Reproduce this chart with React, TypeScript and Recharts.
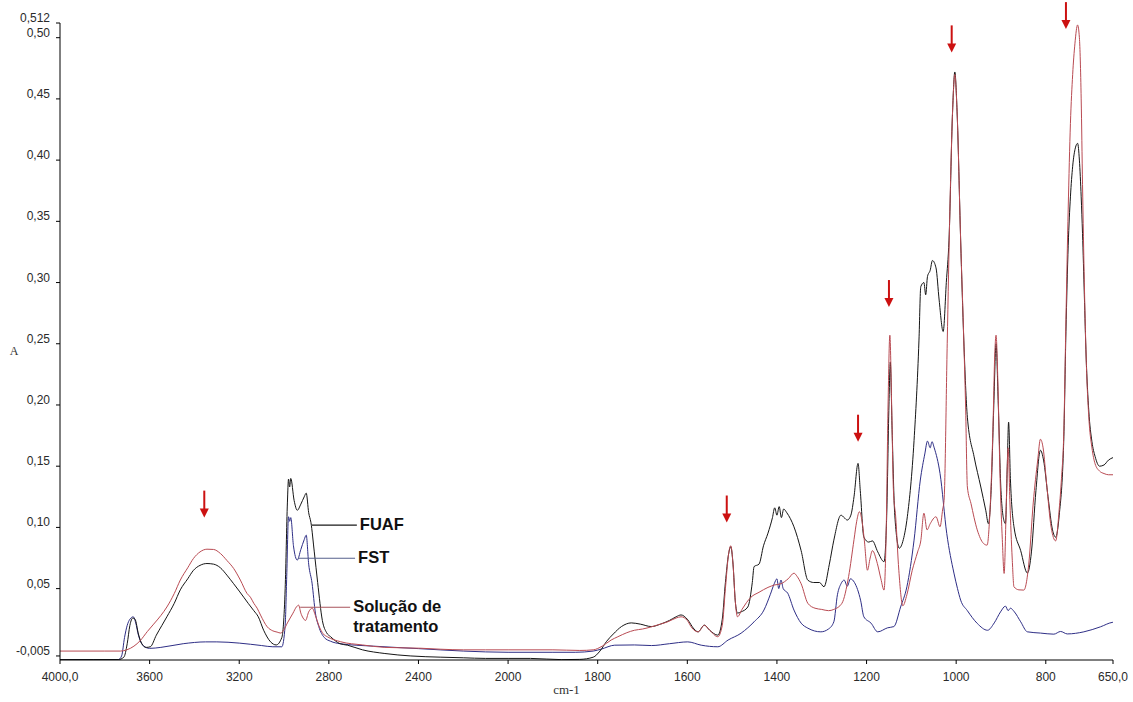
import React from 'react';
import { LineChart, Line, XAxis, YAxis, ReferenceDot, ReferenceLine } from 'recharts';

type Pt = [number, number];

// FTIR spectra: [wavenumber (cm-1), absorbance]
const FUAF: Pt[] = [
  [4000, -0.008], [3850, -0.008], [3740, -0.008], [3715, -0.006], [3700, 0.005], [3688, 0.02],
  [3675, 0.026], [3665, 0.025], [3650, 0.013], [3635, 0.005], [3615, 0.002], [3597, 0.0025],
  [3570, 0.012], [3545, 0.02], [3523, 0.027], [3490, 0.038], [3463, 0.049], [3430, 0.058],
  [3404, 0.065], [3375, 0.069], [3344, 0.0705], [3315, 0.07], [3284, 0.067], [3255, 0.061],
  [3225, 0.054], [3200, 0.048], [3180, 0.043], [3160, 0.038], [3135, 0.032], [3115, 0.027],
  [3091, 0.016], [3060, 0.0065], [3035, 0.004], [3010, 0.01], [2995, 0.05], [2985, 0.12],
  [2980, 0.1395], [2975, 0.133], [2970, 0.14], [2955, 0.122], [2941, 0.114], [2925, 0.119],
  [2910, 0.125], [2901, 0.128], [2890, 0.112], [2880, 0.104], [2865, 0.08], [2850, 0.055],
  [2829, 0.024], [2810, 0.014], [2792, 0.0107], [2750, 0.005], [2717, 0.0038], [2650, 0.0],
  [2550, -0.003], [2434, -0.005], [2300, -0.006], [2200, -0.0065], [2100, -0.007], [2000, -0.007],
  [1950, -0.007], [1880, -0.008], [1840, -0.0078], [1810, -0.006], [1795, -0.001], [1780, 0.007],
  [1765, 0.013], [1747, 0.019], [1725, 0.022], [1705, 0.021], [1680, 0.019], [1660, 0.021],
  [1640, 0.024], [1625, 0.027], [1614, 0.0285], [1600, 0.025], [1585, 0.017], [1576, 0.0147],
  [1562, 0.0202], [1550, 0.016], [1532, 0.012], [1522, 0.025], [1515, 0.055], [1508, 0.078],
  [1503, 0.0842], [1498, 0.07], [1493, 0.04], [1488, 0.03], [1480, 0.031], [1465, 0.035],
  [1455, 0.055], [1451, 0.068], [1440, 0.07], [1430, 0.085], [1420, 0.0953], [1410, 0.108],
  [1405, 0.116], [1400, 0.11], [1395, 0.117], [1390, 0.108], [1385, 0.115], [1378, 0.112],
  [1362, 0.1005], [1346, 0.081], [1331, 0.0569], [1318, 0.055], [1305, 0.055], [1295, 0.0515],
  [1283, 0.07], [1273, 0.0896], [1257, 0.11], [1250, 0.108], [1243, 0.106], [1235, 0.11],
  [1228, 0.125], [1219, 0.1523], [1214, 0.13], [1206, 0.092], [1195, 0.088], [1187, 0.089],
  [1175, 0.08], [1161, 0.072], [1155, 0.11], [1150, 0.2], [1147, 0.235], [1143, 0.18],
  [1137, 0.11], [1127, 0.083], [1118, 0.09], [1109, 0.1087], [1094, 0.171], [1083, 0.253],
  [1079, 0.2966], [1072, 0.3], [1068, 0.29], [1064, 0.305], [1058, 0.31], [1053, 0.318],
  [1045, 0.312], [1038, 0.2857], [1029, 0.26], [1022, 0.3], [1016, 0.3347], [1008, 0.44],
  [1003, 0.472], [998, 0.44], [990, 0.3347], [983, 0.253], [975, 0.19], [960, 0.1577],
  [945, 0.133], [934, 0.114], [928, 0.103], [922, 0.13], [916, 0.2], [911, 0.25], [906, 0.2],
  [900, 0.13], [893, 0.105], [890, 0.103], [886, 0.15], [883, 0.186], [879, 0.14], [871, 0.1005],
  [856, 0.081], [841, 0.0627], [832, 0.08], [822, 0.13], [812, 0.163], [805, 0.155], [795, 0.125],
  [785, 0.098], [778, 0.092], [770, 0.11], [760, 0.17], [755, 0.26], [750, 0.33], [745, 0.37],
  [740, 0.395], [734, 0.41], [729, 0.4137], [725, 0.4], [721, 0.37], [718, 0.34], [714, 0.29],
  [710, 0.24], [704, 0.195], [697, 0.17], [690, 0.158], [680, 0.15], [670, 0.151], [660, 0.155],
  [650, 0.157],
];

const FST: Pt[] = [
  [4000, -0.008], [3740, -0.008], [3725, -0.005], [3712, 0.01], [3700, 0.02], [3688, 0.025],
  [3673, 0.027], [3662, 0.022], [3650, 0.012], [3635, 0.005], [3615, 0.0018], [3600, 0.0012],
  [3550, 0.002], [3450, 0.005], [3350, 0.0065], [3300, 0.0065], [3200, 0.0055], [3100, 0.0035],
  [3050, 0.0025], [3010, 0.0025], [2995, 0.02], [2988, 0.06], [2980, 0.1087], [2975, 0.105],
  [2970, 0.108], [2958, 0.085], [2941, 0.0733], [2925, 0.082], [2910, 0.09], [2901, 0.0937],
  [2890, 0.07], [2875, 0.0545], [2860, 0.03], [2845, 0.019], [2820, 0.01], [2792, 0.007],
  [2750, 0.005], [2600, 0.003], [2400, 0.001], [2200, -0.001], [2000, -0.002], [1900, -0.002],
  [1850, -0.002], [1810, -0.001], [1792, 0.0006], [1762, 0.0038], [1718, 0.004], [1680, 0.0035],
  [1640, 0.005], [1599, 0.0065], [1569, 0.0038], [1532, 0.0025], [1509, 0.008], [1480, 0.0136],
  [1465, 0.018], [1451, 0.0229], [1429, 0.0325], [1415, 0.045], [1406, 0.054], [1400, 0.058],
  [1396, 0.05], [1391, 0.057], [1386, 0.05], [1376, 0.0463], [1362, 0.0325], [1346, 0.0218],
  [1331, 0.0177], [1302, 0.0147], [1285, 0.017], [1273, 0.0229], [1265, 0.045], [1257, 0.054],
  [1250, 0.057], [1243, 0.052], [1236, 0.058], [1227, 0.055], [1213, 0.04], [1206, 0.027],
  [1190, 0.0218], [1175, 0.0147], [1153, 0.018], [1139, 0.019], [1124, 0.035], [1110, 0.0515],
  [1094, 0.0896], [1080, 0.1387], [1070, 0.16], [1064, 0.1705], [1058, 0.165], [1054, 0.17],
  [1049, 0.165], [1036, 0.144], [1021, 0.095], [1005, 0.0627], [997, 0.05], [990, 0.0406],
  [975, 0.032], [953, 0.0216], [930, 0.016], [915, 0.022], [901, 0.031], [890, 0.0357],
  [884, 0.032], [879, 0.034], [870, 0.031], [856, 0.0229], [841, 0.0147], [812, 0.0137],
  [782, 0.0128], [767, 0.015], [752, 0.013], [715, 0.0147], [678, 0.0188], [652, 0.0224],
  [650, 0.0225],
];

const SOLUCAO: Pt[] = [
  [4000, -0.001], [3800, -0.001], [3730, -0.001], [3702, 0.0], [3670, 0.003], [3642, 0.0075],
  [3610, 0.015], [3582, 0.021], [3550, 0.028], [3523, 0.035], [3490, 0.046], [3463, 0.057],
  [3430, 0.067], [3404, 0.0747], [3375, 0.08], [3344, 0.0822], [3315, 0.082], [3284, 0.0787],
  [3255, 0.073], [3225, 0.0665], [3195, 0.057], [3165, 0.046], [3150, 0.043], [3135, 0.038],
  [3120, 0.034], [3105, 0.0284], [3075, 0.0188], [3050, 0.0155], [3031, 0.0145], [3015, 0.0137],
  [3002, 0.016], [2985, 0.022], [2960, 0.03], [2945, 0.035], [2935, 0.0365], [2925, 0.03],
  [2915, 0.026], [2904, 0.024], [2890, 0.031], [2874, 0.034], [2860, 0.028], [2845, 0.02],
  [2825, 0.013], [2807, 0.0107], [2747, 0.0066], [2650, 0.004], [2550, 0.002], [2389, 0.0013],
  [2300, 0.0005], [2200, 0.0], [2100, 0.0], [2000, 0.0], [1900, 0.0], [1840, -0.0005],
  [1810, 0.0], [1790, 0.003], [1770, 0.008], [1755, 0.0107], [1735, 0.014], [1718, 0.016],
  [1700, 0.017], [1680, 0.0188], [1660, 0.021], [1643, 0.023], [1625, 0.026], [1614, 0.027],
  [1600, 0.024], [1590, 0.018], [1576, 0.0147], [1562, 0.02], [1550, 0.016], [1532, 0.0107],
  [1522, 0.02], [1515, 0.05], [1508, 0.078], [1503, 0.085], [1498, 0.07], [1493, 0.04],
  [1488, 0.027], [1478, 0.033], [1458, 0.043], [1440, 0.047], [1420, 0.051], [1405, 0.053],
  [1391, 0.054], [1375, 0.058], [1362, 0.0626], [1355, 0.06], [1346, 0.054], [1331, 0.038],
  [1315, 0.034], [1300, 0.033], [1285, 0.032], [1273, 0.033], [1255, 0.038], [1240, 0.06],
  [1228, 0.09], [1222, 0.105], [1216, 0.1128], [1210, 0.105], [1205, 0.0896], [1198, 0.065],
  [1192, 0.075], [1187, 0.081], [1176, 0.0706], [1168, 0.058], [1161, 0.0488], [1156, 0.1],
  [1152, 0.2], [1148, 0.257], [1144, 0.2], [1140, 0.13], [1135, 0.1087], [1128, 0.065],
  [1119, 0.036], [1110, 0.045], [1098, 0.065], [1086, 0.08], [1079, 0.089], [1072, 0.1116],
  [1065, 0.098], [1058, 0.103], [1045, 0.1087], [1036, 0.1005], [1030, 0.115], [1027, 0.122],
  [1020, 0.25], [1014, 0.36], [1008, 0.44], [1003, 0.47], [998, 0.44], [990, 0.3347],
  [983, 0.253], [979, 0.2], [975, 0.133], [967, 0.1196], [953, 0.098], [939, 0.0869],
  [931, 0.0855], [925, 0.11], [918, 0.18], [914, 0.24], [911, 0.257], [907, 0.22], [902, 0.14],
  [897, 0.09], [893, 0.0624], [888, 0.12], [884, 0.165], [880, 0.12], [875, 0.075], [871, 0.0515],
  [860, 0.049], [849, 0.0488], [838, 0.07], [828, 0.12], [818, 0.155], [812, 0.172], [806, 0.165],
  [798, 0.135], [788, 0.1], [778, 0.089], [770, 0.115], [765, 0.14], [760, 0.175], [755, 0.27],
  [750, 0.36], [745, 0.43], [740, 0.47], [735, 0.495], [729, 0.5104], [725, 0.5], [721, 0.45],
  [718, 0.38], [714, 0.3], [710, 0.24], [704, 0.19], [697, 0.165], [690, 0.152], [680, 0.146],
  [670, 0.144], [660, 0.143], [650, 0.143],
];

const X_TICKS = [4000, 3600, 3200, 2800, 2400, 2000, 1800, 1600, 1400, 1200, 1000, 800, 650];
const X_TICK_LABELS = ['4000,0', '3600', '3200', '2800', '2400', '2000', '1800', '1600', '1400', '1200', '1000', '800', '650,0'];
const Y_TICKS = [-0.005, 0.05, 0.1, 0.15, 0.2, 0.25, 0.3, 0.35, 0.4, 0.45, 0.5, 0.512];
const Y_TICK_LABELS = ['-0,005', '0,05', '0,10', '0,15', '0,20', '0,25', '0,30', '0,35', '0,40', '0,45', '0,50', '0,512'];

// red arrows marking bands: [wavenumber, absorbance at arrow tip]
const ARROWS: Pt[] = [[3356, 0.108], [1512, 0.104], [1219, 0.17], [1150, 0.28], [1010, 0.488], [755, 0.507]];

// series call-outs: leader line from/to wavenumber at a given absorbance
const CALLOUTS = [
  { lines: ['FUAF'], from: 2876, to: 2675, y: 0.1018, color: '#1a1a1a' },
  { lines: ['FST'], from: 2937, to: 2683, y: 0.0748, color: '#56618c' },
  { lines: ['Solução de', 'tratamento'], from: 2928, to: 2705, y: 0.0348, color: '#a8535b' },
];

// The axis is expanded 2x below 2000 cm-1 (instrument scale break).
const BREAK = 2000;
const EXPAND = 2;
const toPos = (w: number) => (w >= BREAK ? 4000 - w : 4000 - BREAK + EXPAND * (BREAK - w));

const rows = (pts: Pt[]) => pts.map(([w, a]) => ({ pos: toPos(w), a }));
const fuafRows = rows(FUAF);
const fstRows = rows(FST);
const solRows = rows(SOLUCAO);
const xTickPos = X_TICKS.map(toPos);

const TICK_FONT = '"Liberation Sans", Arial, sans-serif';

const XTick = (props: any) => {
  const { x, y, payload } = props;
  const i = xTickPos.indexOf(payload.value);
  return (
    <text x={x} y={y} dy={15} textAnchor="middle" fontFamily={TICK_FONT} fontSize={12} fill="#2a2a2a">
      {X_TICK_LABELS[i]}
    </text>
  );
};

const YTick = (props: any) => {
  const { x, y, payload } = props;
  const i = Y_TICKS.indexOf(payload.value);
  return (
    <text x={x} y={y} dy={-1} textAnchor="end" fontFamily={TICK_FONT} fontSize={12} fill="#2a2a2a">
      {Y_TICK_LABELS[i]}
    </text>
  );
};

const YTitle = (props: any) => {
  const vb = props.viewBox || { x: 0, y: 0, width: 0, height: 0 };
  return (
    <text x={vb.x + 14} y={vb.y + vb.height / 2 + 13} textAnchor="middle" fontFamily='"Liberation Serif", "Times New Roman", serif' fontSize={12} fill="#333">
      A
    </text>
  );
};

const XTitle = (props: any) => {
  const vb = props.viewBox || { x: 0, y: 0, width: 0, height: 0 };
  return (
    <text x={vb.x + vb.width / 2 - 20} y={vb.y + 34} textAnchor="middle" fontFamily='"Liberation Serif", "Times New Roman", serif' fontSize={13} fill="#333">
      cm-1
    </text>
  );
};

const Arrow = (props: any) => {
  const { cx, cy } = props;
  const c = '#cc1111';
  return (
    <g>
      <line x1={cx} y1={cy - 27} x2={cx} y2={cy - 7} stroke={c} strokeWidth={2} />
      <polygon points={`${cx - 4.5},${cy - 9} ${cx + 4.5},${cy - 9} ${cx},${cy}`} fill={c} />
    </g>
  );
};

const calloutText = (lines: string[]) => (props: any) => {
  const { cx, cy } = props;
  return (
    <text x={cx + 3} y={cy} fontFamily={TICK_FONT} fontWeight="bold" fontSize={16.5} fill="#111">
      {lines.map((t, i) => (
        <tspan key={i} x={cx + 3} dy={i === 0 ? 5 : 20}>
          {t}
        </tspan>
      ))}
    </text>
  );
};

export default function App() {
  return (
    <div style={{ position: 'absolute', left: 0, top: 0, background: '#fff' }}>
      <LineChart width={1133} height={702} margin={{ top: 23, right: 20, bottom: 0, left: 0 }}>
        <XAxis
          dataKey="pos"
          type="number"
          domain={[0, toPos(650)]}
          ticks={xTickPos}
          interval={0}
          allowDataOverflow
          height={42}
          tickSize={4}
          tickMargin={2}
          tick={<XTick />}
          axisLine={{ stroke: '#000' }}
          tickLine={{ stroke: '#000' }}
          label={<XTitle />}
        />
        <YAxis
          type="number"
          domain={[-0.0083, 0.512]}
          ticks={Y_TICKS}
          interval={0}
          allowDataOverflow
          width={60}
          tickSize={4}
          tickMargin={6}
          tick={<YTick />}
          axisLine={{ stroke: '#000' }}
          tickLine={{ stroke: '#000' }}
          label={<YTitle />}
        />
        <Line data={fstRows} dataKey="a" type="monotone" stroke="#2e2e86" strokeWidth={1} dot={false} isAnimationActive={false} />
        <Line data={fuafRows} dataKey="a" type="monotone" stroke="#151515" strokeWidth={1} dot={false} isAnimationActive={false} />
        <Line data={solRows} dataKey="a" type="monotone" stroke="#b94a52" strokeWidth={1} dot={false} isAnimationActive={false} />
        {CALLOUTS.map((c, i) => (
          <ReferenceLine
            key={`cl-${i}`}
            segment={[{ x: toPos(c.from), y: c.y }, { x: toPos(c.to), y: c.y }]}
            stroke={c.color}
            strokeWidth={1.2}
            ifOverflow="visible"
          />
        ))}
        {CALLOUTS.map((c, i) => (
          <ReferenceDot key={`ct-${i}`} x={toPos(c.to)} y={c.y} ifOverflow="visible" shape={calloutText(c.lines)} />
        ))}
        {ARROWS.map(([w, a], i) => (
          <ReferenceDot key={`ar-${i}`} x={toPos(w)} y={a} ifOverflow="visible" shape={Arrow} />
        ))}
      </LineChart>
    </div>
  );
}
